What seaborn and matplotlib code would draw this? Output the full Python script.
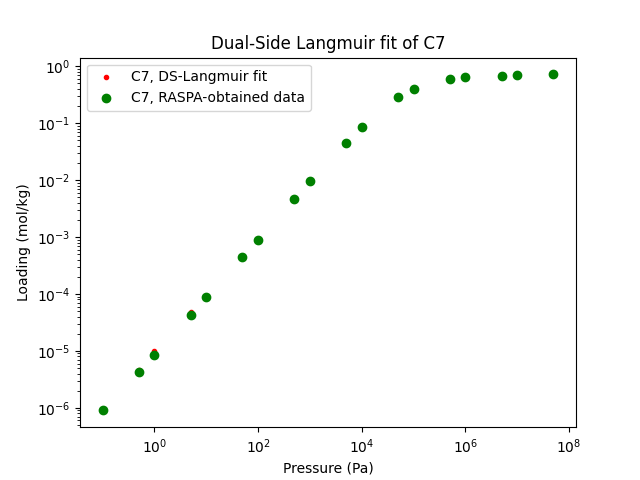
import numpy as np
import pandas as pd
import matplotlib
matplotlib.use("Agg")
import matplotlib.pyplot as plt
import seaborn as sns

# pressure points (Pa)
pressure = [1e-1, 5e-1, 1e0, 5e0, 1e1, 5e1, 1e2, 5e2, 1e3, 5e3,
            1e4, 5e4, 1e5, 5e5, 1e6, 5e6, 1e7, 5e7]

# RASPA loading (mol/kg)
loading_raspa = [9.0e-7, 4.2e-6, 8.3e-6, 4.3e-5, 8.7e-5, 4.4e-4, 9.0e-4,
                 4.6e-3, 9.5e-3, 4.5e-2, 8.5e-2, 0.29, 0.40, 0.59, 0.64,
                 0.67, 0.70, 0.72]

# dual-site Langmuir fit (mol/kg)
loading_fit = [9.2e-7, 4.6e-6, 1.0e-5, 4.9e-5, 9.0e-5, 4.5e-4, 9.1e-4,
               4.6e-3, 9.5e-3, 4.5e-2, 8.5e-2, 0.29, 0.40, 0.59, 0.64,
               0.67, 0.70, 0.72]

df = pd.DataFrame({"p": pressure, "raspa": loading_raspa, "fit": loading_fit})

fig, ax = plt.subplots(figsize=(6.4, 4.8), dpi=100)
sns.scatterplot(data=df, x="p", y="fit", marker=".", s=36, color="red",
                edgecolor="red", linewidth=1, label="C7, DS-Langmuir fit", ax=ax)
sns.scatterplot(data=df, x="p", y="raspa", marker="o", s=36, color="green",
                edgecolor="green", linewidth=1, label="C7, RASPA-obtained data", ax=ax)
ax.set_xscale("log")
ax.set_yscale("log")
ax.set_title("Dual-Side Langmuir fit of C7")
ax.set_xlabel("Pressure (Pa)")
ax.set_ylabel("Loading (mol/kg)")
ax.legend(loc="upper left")
fig.savefig("out.png")
